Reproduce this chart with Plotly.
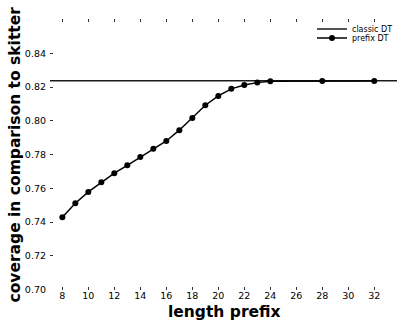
import plotly.graph_objects as go

prefix_len = [8, 9, 10, 11, 12, 13, 14, 15, 16, 17, 18, 19, 20, 21, 22, 23, 24, 28, 32]
prefix_cov = [0.7428, 0.7511, 0.7578, 0.7635, 0.7689, 0.7736, 0.7785, 0.7834,
              0.7880, 0.7944, 0.8017, 0.8092, 0.8147, 0.8189, 0.8212, 0.8226,
              0.8234, 0.8235, 0.8235]
classic_x = [7.05, 33.75]
classic_cov = [0.8237, 0.8237]

x_ticks = list(range(8, 33, 2))
y_ticks = [0.70, 0.72, 0.74, 0.76, 0.78, 0.80, 0.82, 0.84]

fig = go.Figure()
fig.add_trace(go.Scatter(x=classic_x, y=classic_cov, mode="lines", name="classic DT",
                         line=dict(color="#1a1a1a", width=1.5), legend="legend"))
fig.add_trace(go.Scatter(x=prefix_len, y=prefix_cov, mode="lines+markers", name="prefix DT",
                         line=dict(color="black", width=1.5),
                         marker=dict(color="black", size=6), legend="legend2"))

font = "DejaVu Sans, Arial, sans-serif"
leg = dict(xanchor="left", yanchor="middle", font=dict(size=8, family=font, color="black"),
           bgcolor="rgba(0,0,0,0)", itemwidth=30, borderwidth=0)
fig.update_layout(
    width=397, height=321,
    margin=dict(l=50, r=0, t=19, b=31, autoexpand=False),
    paper_bgcolor="white", plot_bgcolor="white",
    font=dict(family=font, color="black", size=9),
    showlegend=True,
    legend=dict(x=0.755, y=(290 - 29) / 271, **leg),
    legend2=dict(x=0.755, y=(290 - 38) / 271, **leg),
    xaxis=dict(range=[7.05, 33.75], tickvals=x_ticks, ticktext=[str(v) for v in x_ticks],
               ticks="inside", ticklen=3, tickwidth=1, tickcolor="#333",
               showgrid=False, zeroline=False, showline=False, mirror="ticks",
               tickfont=dict(size=9.5), ticklabelstandoff=-2),
    yaxis=dict(range=[0.6997, 0.8603], tickvals=y_ticks,
               ticktext=[f"{v:.2f}" for v in y_ticks],
               ticks="inside", ticklen=3, tickwidth=1, tickcolor="#333",
               showgrid=False, zeroline=False, showline=False,
               tickfont=dict(size=9.5), ticklabelstandoff=3),
    annotations=[
        dict(text="<b>length prefix</b>", xref="paper", yref="paper",
             x=(224.5 - 50) / 347, y=(290 - 311.5) / 271, xanchor="center", yanchor="middle",
             showarrow=False, font=dict(size=15.5, family=font, color="black")),
        dict(text="<b>coverage in comparison to skitter</b>", xref="paper", yref="paper",
             x=(14 - 50) / 347, y=0.5, xanchor="center", yanchor="middle",
             textangle=-90, showarrow=False,
             font=dict(size=15.5, family=font, color="black")),
    ],
)

fig.write_html("out.html", config={"displayModeBar": False},
               post_script="document.body.style.margin='0';")
